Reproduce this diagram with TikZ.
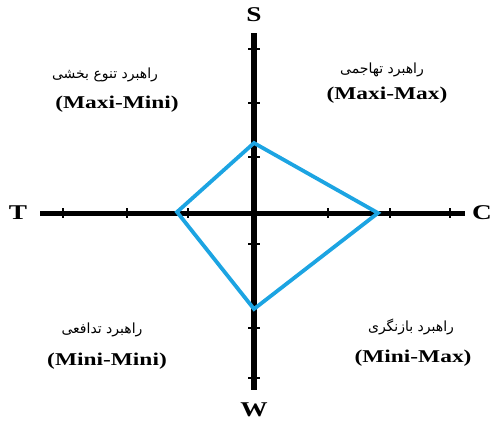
\documentclass[tikz,border=0pt]{standalone}
\usepackage{fontspec}
\setmainfont{Liberation Serif}
\newfontfamily\latfont[FakeStretch=1.3]{Liberation Serif}
\newfontfamily\arabicfont[Script=Arabic]{DejaVu Sans}
\TeXXeTstate=1
\definecolor{diamondblue}{RGB}{28,164,226}
\tikzset{
  axis/.style={line width=5pt},
  tickmark/.style={line width=1.4pt},
  axislabel/.style={font=\latfont\bfseries\fontsize{21}{21}\selectfont, inner sep=0pt},
  faname/.style={font=\arabicfont\fontsize{14}{15}\selectfont, inner sep=0pt},
  enname/.style={font=\latfont\bfseries\fontsize{18}{18}\selectfont, inner sep=0pt},
  diamondline/.style={draw=diamondblue, line width=3.8pt, line join=miter}
}
\begin{document}
\begin{tikzpicture}[x=1pt,y=-1pt]
\useasboundingbox (0,0) rectangle (493,421);
\clip (0,0) rectangle (493,421);
% axes
\coordinate (hl) at (40,213);
\coordinate (hr) at (465,213);
\coordinate (vt) at (254,33);
\coordinate (vb) at (254,390);
\draw[axis] (hl) -- (hr);
\draw[axis, line width=6pt] (vt) -- (vb);
% ticks
\foreach \x in {63,127,188,328,390,450} \draw[tickmark] (\x,208) -- (\x,218);
\foreach \y in {49,103,157,244,328,378} \draw[tickmark] (248,\y) -- (260,\y);
% diamond
\coordinate (dt) at (254,143);
\coordinate (dr) at (378,213);
\coordinate (db) at (254,309);
\coordinate (dl) at (177,212);
\draw[diamondline] (dt) -- (dr) -- (db) -- (dl) -- cycle;
% axis labels
\node[axislabel] (S) at (254,15) {S};
\node[axislabel] (W) at (254,410) {W};
\node[axislabel] (T) at (18,213) {T};
\node[axislabel] (C) at (482,213) {C};
% quadrant labels
\node[faname] (q1fa) at (105,75) {\beginR راهبرد تنوع بخشی\endR};
\node[enname] (q1en) at (117,104) {(Maxi-Mini)};
\node[faname] (q2fa) at (382,70) {\beginR راهبرد تهاجمی\endR};
\node[enname] (q2en) at (387,95) {(Maxi-Max)};
\node[faname] (q3fa) at (102,330) {\beginR راهبرد تدافعی\endR};
\node[enname] (q3en) at (107,361) {(Mini-Mini)};
\node[faname] (q4fa) at (411,327) {\beginR راهبرد بازنگری\endR};
\node[enname] (q4en) at (413,358) {(Mini-Max)};
\end{tikzpicture}
\end{document}
